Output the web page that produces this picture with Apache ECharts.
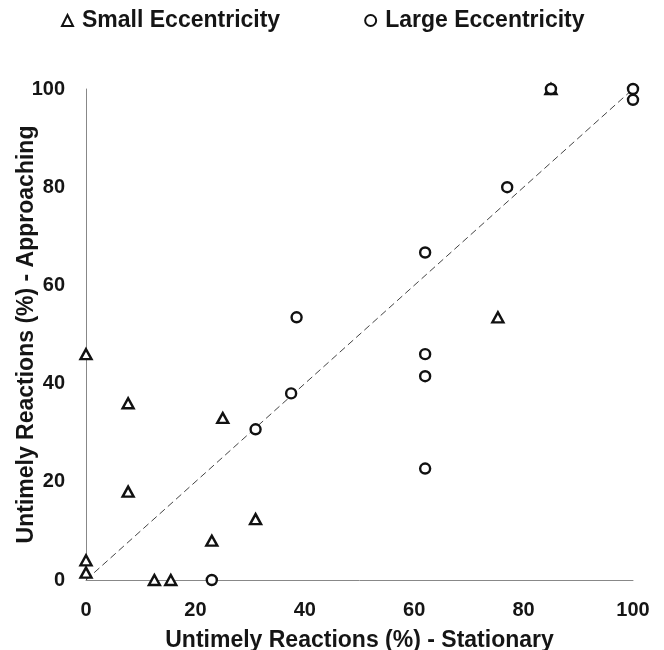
<!DOCTYPE html>
<html>
<head>
<meta charset="utf-8">
<script src="https://cdn.jsdelivr.net/npm/echarts@6/dist/echarts.min.js"></script>
<style>html,body{margin:0;padding:0;background:#fff}#c{width:664px;height:650px}</style>
</head>
<body>
<div id="c"></div>
<script>
// Small Eccentricity (triangles): [stationary %, approaching %]
const smallEcc = [
  [0, 46], [0, 4], [0, 1.5], [7.7, 36], [7.7, 18], [25, 33],
  [31, 12.4], [23, 8], [12.5, 0], [15.5, 0], [75.3, 53.5], [85, 100]
];
// Large Eccentricity (circles)
const largeEcc = [
  [23, 0], [31, 30.7], [37.5, 38], [38.5, 53.5], [62, 66.7], [62, 46],
  [62, 41.5], [62, 22.7], [77, 80], [85, 100], [100, 100], [100, 97.8]
];
const identityLine = [[0, 0], [100, 100]];
const xTicks = [0, 20, 40, 60, 80, 100];
const yTicks = [0, 20, 40, 60, 80, 100];

const font = 'Liberation Sans, Arial, sans-serif';
const txt = '#151515';
const chart = echarts.init(document.getElementById('c'), null, {renderer: 'canvas'});
chart.setOption({
  animation: false,
  backgroundColor: '#fff',
  legend: {
    data: ['Small Eccentricity', 'Large Eccentricity'],
    left: 61, top: 9, padding: 0,
    itemGap: 84,
    itemWidth: 11, itemHeight: 11,
    textStyle: {fontFamily: font, fontWeight: 'bold', fontSize: 23, color: txt, padding: [0, 0, 0, 4]}
  },
  grid: {left: 86, right: 31, top: 89, bottom: 70, containLabel: false, outerBoundsMode: 'none'},
  xAxis: {
    type: 'value', min: xTicks[0], max: xTicks[xTicks.length - 1], interval: 20,
    name: 'Untimely Reactions (%) - Stationary', nameLocation: 'middle', nameGap: 49,
    nameMoveOverlap: false,
    nameTextStyle: {fontFamily: font, fontWeight: 'bold', fontSize: 23, color: txt},
    axisLine: {show: true, lineStyle: {color: '#888', width: 1}},
    axisTick: {show: false},
    splitLine: {show: false},
    axisLabel: {fontFamily: font, fontWeight: 'bold', fontSize: 20, color: txt, margin: 20}
  },
  yAxis: {
    type: 'value', min: yTicks[0], max: yTicks[yTicks.length - 1], interval: 20,
    name: 'Untimely Reactions (%) - Approaching', nameLocation: 'middle', nameGap: 48,
    nameMoveOverlap: false,
    nameTextStyle: {fontFamily: font, fontWeight: 'bold', fontSize: 23, color: txt},
    axisLine: {show: true, lineStyle: {color: '#888', width: 1}},
    axisTick: {show: false},
    splitLine: {show: false},
    axisLabel: {fontFamily: font, fontWeight: 'bold', fontSize: 20, color: txt, margin: 21}
  },
  series: [
    {
      name: 'identity', type: 'line', data: identityLine, symbol: 'none', z: 1,
      lineStyle: {color: '#444', width: 1, type: [7, 4]}, silent: true
    },
    {
      name: 'Small Eccentricity', type: 'scatter', data: smallEcc, symbol: 'triangle', symbolSize: [11, 10], z: 3,
      itemStyle: {color: '#fff', borderColor: '#111', borderWidth: 2.4, opacity: 1}
    },
    {
      name: 'Large Eccentricity', type: 'scatter', data: largeEcc, symbol: 'circle', symbolSize: 10, z: 3,
      itemStyle: {color: '#fff', borderColor: '#111', borderWidth: 2.4, opacity: 1}
    }
  ]
});
</script>
</body>
</html>
